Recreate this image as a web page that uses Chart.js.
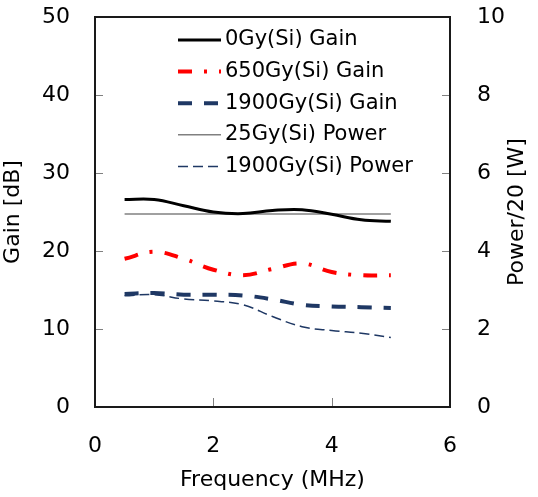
<!doctype html>
<html>
  <head>
    <title>Gain and power vs frequency</title>
    <script src="https://cdn.jsdelivr.net/npm/chart.js@4"></script>
    <style>
      body { margin: 0; background: #fff; }
      #box { width: 538px; height: 497px; }
    </style>
  </head>
  <body>
    <div id="box"><canvas id="gainChart"></canvas></div>
    <script>
      // frequency points (MHz)
      var freq = [0.5, 1.0, 1.5, 2.0, 2.5, 3.0, 3.5, 4.0, 4.5, 5.0];

      // gain [dB], left axis
      var gain0 = [26.6, 26.6, 25.8, 25.0, 24.8, 25.2, 25.3, 24.7, 24.0, 23.8];
      var gain650 = [19.0, 19.9, 19.0, 17.6, 16.9, 17.7, 18.4, 17.3, 16.9, 16.9];
      var gain1900 = [14.5, 14.6, 14.4, 14.4, 14.3, 13.8, 13.1, 12.9, 12.8, 12.7];

      // power/20 [W], right axis
      var power25 = [4.95, 4.95, 4.95, 4.95, 4.95, 4.95, 4.95, 4.95, 4.95, 4.95];
      var power1900 = [2.85, 2.88, 2.77, 2.72, 2.62, 2.32, 2.06, 1.96, 1.89, 1.78];

      var xTicks = [0, 2, 4, 6];
      var gainTicks = [0, 10, 20, 30, 40, 50];
      var powerTicks = [0, 2, 4, 6, 8, 10];
      var rightTitle = "Power/20 [W]";

      function pts(ys) {
        return freq.map(function (f, i) { return { x: f, y: ys[i] }; });
      }

      var FONT = "'DejaVu Sans', 'Liberation Sans', sans-serif";

      // keep the plot box where the original has it
      function fitSide(width) {
        return function (s) {
          s.width = width;
          s.paddingTop = 17;
          s.paddingBottom = 0;
        };
      }

      // box round the plot, short ticks pointing inwards, legend inside the plot
      var framePlugin = {
        id: "frame",
        afterDraw: function (chart) {
          var c = chart.ctx, a = chart.chartArea, s = chart.scales;
          c.save();
          c.strokeStyle = "#808080";
          c.lineWidth = 1;
          c.beginPath();
          s.y.ticks.forEach(function (t, i) {
            var py = Math.round(s.y.getPixelForTick(i)) + 0.5;
            c.moveTo(a.left, py); c.lineTo(a.left + 8, py);
          });
          s.y2.ticks.forEach(function (t, i) {
            var py = Math.round(s.y2.getPixelForTick(i)) + 0.5;
            c.moveTo(a.right, py); c.lineTo(a.right - 8, py);
          });
          s.x.ticks.forEach(function (t, i) {
            var px = Math.round(s.x.getPixelForTick(i)) + 0.5;
            c.moveTo(px, a.bottom); c.lineTo(px, a.bottom - 9);
          });
          c.stroke();
          c.strokeStyle = "#1a1a1a";
          c.lineWidth = 2;
          c.strokeRect(a.left, a.top, a.right - a.left, a.bottom - a.top);

          // right axis title, reading upwards like the left one
          c.save();
          c.font = "22px " + FONT;
          c.fillStyle = "#000";
          c.textAlign = "center";
          c.textBaseline = "middle";
          c.translate(517, (a.top + a.bottom) / 2);
          c.rotate(-Math.PI / 2);
          c.fillText(rightTitle, 0, 0);
          c.restore();

          // legend
          c.font = "21px " + FONT;
          c.textBaseline = "middle";
          c.fillStyle = "#000";
          chart.data.datasets.forEach(function (ds, i) {
            var ly = 40 + i * 31.6;
            c.save();
            c.strokeStyle = ds.borderColor;
            c.lineWidth = ds.borderWidth;
            c.setLineDash(ds.borderDash || []);
            c.beginPath();
            c.moveTo(178, ly); c.lineTo(221, ly);
            c.stroke();
            c.restore();
            c.fillText(ds.label, 225, ly);
          });
          c.restore();
        },
      };

      var ctx = document.getElementById("gainChart").getContext("2d");
      var chart = new Chart(ctx, {
        type: "line",
        data: {
          datasets: [
            {
              label: "0Gy(Si) Gain",
              data: pts(gain0),
              yAxisID: "y",
              borderColor: "#000000",
              borderWidth: 3,
            },
            {
              label: "650Gy(Si) Gain",
              data: pts(gain650),
              yAxisID: "y",
              borderColor: "#ff0000",
              borderWidth: 4,
              borderDash: [14, 12, 3, 12],
            },
            {
              label: "1900Gy(Si) Gain",
              data: pts(gain1900),
              yAxisID: "y",
              borderColor: "#1f3864",
              borderWidth: 4,
              borderDash: [14, 12],
            },
            {
              label: "25Gy(Si) Power",
              data: pts(power25),
              yAxisID: "y2",
              borderColor: "#808080",
              borderWidth: 1.5,
            },
            {
              label: "1900Gy(Si) Power",
              data: pts(power1900),
              yAxisID: "y2",
              borderColor: "#1f3864",
              borderWidth: 1.5,
              borderDash: [10, 5],
            },
          ],
        },
        options: {
          responsive: true,
          maintainAspectRatio: false,
          animation: false,
          layout: { padding: 0 },
          elements: {
            point: { radius: 0 },
            line: { tension: 0.4, fill: false },
          },
          plugins: { legend: { display: false }, tooltip: { enabled: false } },
          scales: {
            x: {
              type: "linear",
              min: 0,
              max: 6,
              afterBuildTicks: function (s) { s.ticks = xTicks.map(function (v) { return { value: v }; }); },
              afterFit: function (s) { s.height = 90; },
              grid: { display: false, drawTicks: false },
              border: { display: false },
              ticks: { color: "#000", font: { size: 22, family: FONT }, padding: 26 },
              title: {
                display: true,
                text: "Frequency (MHz)",
                color: "#000",
                font: { size: 22, family: FONT },
                padding: { top: 0, bottom: 4 },
              },
            },
            y: {
              position: "left",
              min: 0,
              max: 50,
              afterBuildTicks: function (s) { s.ticks = gainTicks.map(function (v) { return { value: v }; }); },
              afterFit: fitSide(95),
              grid: { display: false, drawTicks: false },
              border: { display: false },
              ticks: { color: "#000", font: { size: 22, family: FONT }, padding: 25 },
              title: {
                display: true,
                text: "Gain [dB]",
                color: "#000",
                font: { size: 22, family: FONT },
                padding: { top: 0, bottom: 0 },
              },
            },
            y2: {
              position: "right",
              min: 0,
              max: 10,
              afterBuildTicks: function (s) { s.ticks = powerTicks.map(function (v) { return { value: v }; }); },
              afterFit: fitSide(88),
              grid: { display: false, drawTicks: false },
              border: { display: false },
              ticks: { color: "#000", font: { size: 22, family: FONT }, padding: 27 },
              title: { display: false },
            },
          },
        },
        plugins: [framePlugin],
      });
    </script>
  </body>
</html>
